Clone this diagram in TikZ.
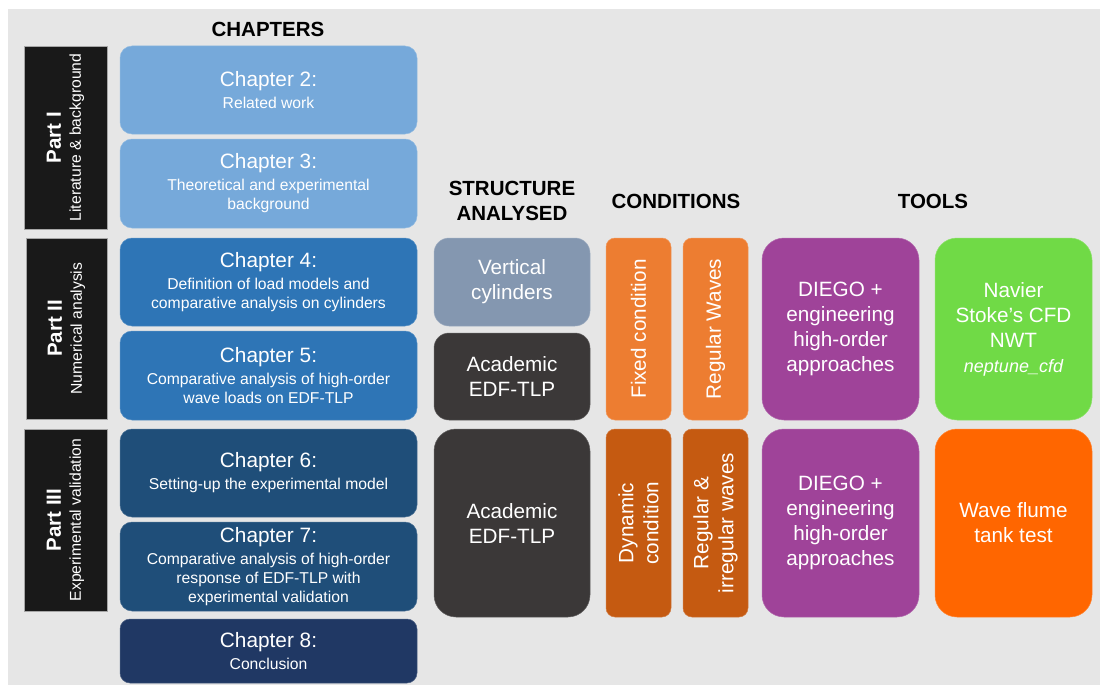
\documentclass[tikz,border=0pt]{standalone}
\usepackage{fontspec}
\setmainfont{Liberation Sans}
\definecolor{bggray}{HTML}{E6E6E6}
\definecolor{partblack}{HTML}{191919}
\definecolor{chlight}{HTML}{76A9DA}
\definecolor{chmid}{HTML}{2E75B6}
\definecolor{chdark}{HTML}{1F4E79}
\definecolor{chnavy}{HTML}{203864}
\definecolor{stslate}{HTML}{8497B0}
\definecolor{stdark}{HTML}{3B3838}
\definecolor{condlight}{HTML}{ED7D31}
\definecolor{conddark}{HTML}{C55A11}
\definecolor{toolpurple}{HTML}{9F4399}
\definecolor{toolgreen}{HTML}{70DA46}
\definecolor{toolorange}{HTML}{FF6600}
\newcommand\chtitle[1]{{\fontsize{20.8}{20}\selectfont #1}\\[3pt]}
\begin{document}
\begin{tikzpicture}[x=1pt,y=-1pt,
  every node/.style={inner sep=0pt, outer sep=0pt, align=center},
  panel/.style={draw=#1!80!white, line width=0.5pt, fill=#1, text=white},
  chap/.style={panel=#1, rounded corners=12pt, minimum width=297pt, minimum height=88pt,
    font=\fontsize{15.7}{19}\selectfont},
  partbar/.style={fill=partblack, draw=gray!70, line width=0.5pt, rotate=90, text=white,
    minimum height=83pt, font=\fontsize{15.7}{20}\selectfont},
  head/.style={font=\bfseries\fontsize{20.5}{25}\selectfont, text=black},
  bigtext/.style={font=\fontsize{20.7}{25}\selectfont},
  structbox/.style={panel=#1, bigtext, minimum width=156pt},
  condbox/.style={panel=#1, bigtext, rotate=90, rounded corners=9pt, minimum height=65pt},
  toolbox/.style={panel=#1, bigtext, rounded corners=22pt, minimum width=157pt},
]
% canvas
\useasboundingbox (0,0) rectangle (1100,685);
\fill[bggray] (8,9) rectangle (1100,685);

% column headings
\node[head] (hchap) at (268,29) {CHAPTERS};
\node[head] (hstruct) at (512,201) {STRUCTURE\\ANALYSED};
\node[head] (hcond) at (676,201) {CONDITIONS};
\node[head] (htools) at (933,201) {TOOLS};

% parts
\node[partbar, minimum width=183pt] (part1) at (65.5,137.5)
  {{\bfseries\fontsize{20.5}{19}\selectfont Part I}\\Literature \& background};
\node[partbar, minimum width=181pt, minimum height=81pt] (part2) at (66.5,328.5)
  {{\bfseries\fontsize{20.5}{19}\selectfont Part II}\\Numerical analysis};
\node[partbar, minimum width=182pt] (part3) at (65.5,520)
  {{\bfseries\fontsize{20.5}{19}\selectfont Part III}\\Experimental validation};

% chapters
\node[chap=chlight] (ch2) at (268.5,90) {\chtitle{Chapter 2:}Related work};
\node[chap=chlight, minimum height=89pt] (ch3) at (268.5,183.5)
  {\chtitle{Chapter 3:}Theoretical and experimental\\background};
\node[chap=chmid] (ch4) at (268.5,282)
  {\chtitle{Chapter 4:}Definition of load models and\\comparative analysis on cylinders};
\node[chap=chmid, minimum height=89pt] (ch5) at (268.5,375.5)
  {\chtitle{Chapter 5:}Comparative analysis of high-order\\wave loads on EDF-TLP};
\node[chap=chdark] (ch6) at (268.5,473)
  {\chtitle{Chapter 6:}Setting-up the experimental model};
\node[chap=chdark, minimum height=89pt] (ch7) at (268.5,566.5)
  {\chtitle{Chapter 7:}Comparative analysis of high-order\\response of EDF-TLP with\\experimental validation};
\node[chap=chnavy, minimum height=64pt, rounded corners=10pt] (ch8) at (268.5,651)
  {\chtitle{Chapter 8:}Conclusion};

% structures analysed
\node[structbox=stslate, rounded corners=15pt, minimum height=88pt] (cyl) at (512,282)
  {Vertical\\cylinders};
\node[structbox=stdark, rounded corners=15pt, minimum height=87pt] (tlpnum) at (512,376.5)
  {Academic\\EDF-TLP};
\node[structbox=stdark, rounded corners=22pt, minimum height=188pt] (tlpexp) at (512,523)
  {Academic\\EDF-TLP};

% conditions
\node[condbox=condlight, minimum width=182pt] (fixed) at (638.5,329) {Fixed condition};
\node[condbox=condlight, minimum width=182pt] (regular) at (715.5,329) {Regular Waves};
\node[condbox=conddark, minimum width=188pt] (dynamic) at (638.5,523) {Dynamic\\condition};
\node[condbox=conddark, minimum width=188pt] (irregular) at (715.5,523) {Regular \&\\irregular waves};

% tools
\node[toolbox=toolpurple, minimum height=182pt] (diego1) at (840.5,329)
  {DIEGO +\\engineering\\high-order\\approaches};
\node[toolbox=toolgreen, minimum height=182pt] (cfd) at (1013.5,329)
  {Navier\\Stoke's CFD\\NWT\\{\itshape\fontsize{18}{25}\selectfont neptune\_cfd}};
\node[toolbox=toolpurple, minimum height=188pt] (diego2) at (840.5,523)
  {DIEGO +\\engineering\\high-order\\approaches};
\node[toolbox=toolorange, minimum height=188pt] (flume) at (1013.5,523)
  {Wave flume\\tank test};
\end{tikzpicture}
\end{document}
